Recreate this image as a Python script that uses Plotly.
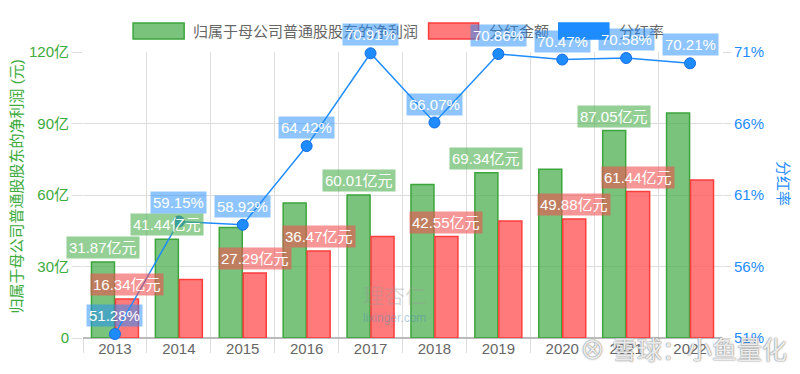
import plotly.graph_objects as go

years = ["2013", "2014", "2015", "2016", "2017", "2018", "2019", "2020", "2021", "2022"]
net_profit = [31.87, 41.44, 46.32, 56.61, 60.01, 64.40, 69.34, 70.78, 87.05, 94.40]
dividend = [16.34, 24.51, 27.29, 36.47, 42.55, 42.55, 49.13, 49.88, 61.44, 66.28]
payout_rate = [51.28, 59.15, 58.92, 64.42, 70.91, 66.07, 70.86, 70.47, 70.58, 70.21]

show_profit_label = [True, True, False, False, True, False, True, False, True, False]
show_dividend_label = [True, False, True, True, False, True, False, True, True, False]

left_ticks = [0, 30, 60, 90, 120]
left_tick_text = ["0", "30亿", "60亿", "90亿", "120亿"]
right_ticks = [51, 56, 61, 66, 71]
right_tick_text = ["51%", "56%", "61%", "66%", "71%"]

FONT = "Liberation Sans, Noto Sans CJK SC, sans-serif"
GREEN = "rgba(76,175,80,0.75)"
GREEN_LINE = "rgba(60,165,60,1)"
RED = "rgba(255,90,90,0.8)"
RED_LINE = "rgba(255,60,60,1)"
BLUE = "rgb(30,140,255)"

fig = go.Figure()
fig.add_trace(go.Bar(x=years, y=net_profit, name="归属于母公司普通股股东的净利润",
                     marker=dict(color=GREEN, line=dict(color=GREEN_LINE, width=1.5)),
                     yaxis="y"))
fig.add_trace(go.Bar(x=years, y=dividend, name="分红金额",
                     marker=dict(color=RED, line=dict(color=RED_LINE, width=1.5)),
                     yaxis="y"))
fig.add_trace(go.Scatter(x=years, y=payout_rate, name="分红率", mode="lines+markers",
                         line=dict(color=BLUE, width=1.5),
                         marker=dict(size=11, color=BLUE, line=dict(color="rgb(20,110,230)", width=1)),
                         yaxis="y2", cliponaxis=False))

annotations = []
# custom legend
legend_items = [
    ("归属于母公司普通股股东的净利润", 0.0784, 0.1583, 0.169, GREEN, GREEN_LINE),
    ("分红金额", 0.5408, 0.6191, 0.6317, RED, RED_LINE),
    ("分红率", 0.7445, 0.8229, 0.8354, BLUE, BLUE),
]
shapes = []
for name, x0, x1, tx, fc, lc in legend_items:
    shapes.append(dict(type="rect", xref="paper", yref="paper", x0=x0, x1=x1, y0=1.0455, y1=1.1014,
                       fillcolor=fc, line=dict(color=lc, width=1.5), layer="below"))
    annotations.append(dict(x=tx, y=1.0734, xref="paper", yref="paper",
                            xanchor="left", yanchor="middle",
                            text=name, showarrow=False,
                            font=dict(family=FONT, size=15, color="#666")))

# watermarks
annotations.append(dict(x=0.488, y=0.15, xref="paper", yref="paper", xanchor="center", yanchor="middle",
                        text="理杏仁", showarrow=False,
                        font=dict(family=FONT, size=21, color="rgba(150,150,150,0.35)")))
annotations.append(dict(x=0.488, y=0.07, xref="paper", yref="paper", xanchor="center", yanchor="middle",
                        text="lixinger.com", showarrow=False,
                        font=dict(family=FONT, size=12, color="rgba(80,140,180,0.45)")))

for i, yr in enumerate(years):
    if show_profit_label[i]:
        annotations.append(dict(x=i, y=net_profit[i], xref="x", yref="y", xshift=-12, yshift=3,
                                yanchor="bottom", text=f"{net_profit[i]:.2f}亿元", showarrow=False,
                                font=dict(family=FONT, size=15, color="white"),
                                bgcolor="rgba(76,175,80,0.6)", borderpad=2))
for i, yr in enumerate(years):
    if show_dividend_label[i]:
        annotations.append(dict(x=i, y=dividend[i], xref="x", yref="y", xshift=12, yshift=3,
                                yanchor="bottom", text=f"{dividend[i]:.2f}亿元", showarrow=False,
                                font=dict(family=FONT, size=15, color="white"),
                                bgcolor="rgba(240,80,80,0.6)", borderpad=2))
for i, yr in enumerate(years):
    annotations.append(dict(x=i, y=payout_rate[i], xref="x", yref="y2", yshift=7,
                            yanchor="bottom", text=f"{payout_rate[i]:.2f}%", showarrow=False,
                            font=dict(family=FONT, size=15, color="white"),
                            bgcolor="rgba(30,140,255,0.5)", borderpad=2))

# axis titles
annotations.append(dict(x=-0.104, y=0.528, xref="paper", yref="paper", textangle=-90,
                        xanchor="center", yanchor="middle",
                        text="归属于母公司普通股股东的净利润 (元)", showarrow=False,
                        font=dict(family=FONT, size=15, color="rgb(60,170,60)")))
annotations.append(dict(x=1.0955, y=0.542, xref="paper", yref="paper", textangle=90,
                        xanchor="center", yanchor="middle",
                        text="分红率", showarrow=False,
                        font=dict(family=FONT, size=15, color="rgb(30,140,255)")))
annotations.append(dict(x=0.939, y=-0.042, xref="paper", yref="paper", xanchor="center", yanchor="middle",
                        text="⊗ 雪球：小鱼量化", showarrow=False,
                        font=dict(family=FONT, size=25, color="rgba(255,255,255,0.85)",
                                  shadow="0 0 2px #777, 0 0 1px #777")))

# the page body has an 8px margin; size the figure to fit the 800x374 window
fig.update_layout(
    width=784, height=358,
    margin=dict(l=75, r=70, t=44, b=28, autoexpand=False),
    paper_bgcolor="white", plot_bgcolor="white",
    barmode="group", bargap=0.25, bargroupgap=0.04,
    showlegend=False,
    font=dict(family=FONT),
    xaxis=dict(type="category", range=[-0.5, len(years) - 0.5], tickson="boundaries",
               showgrid=True, gridcolor="#ddd",
               ticks="outside", ticklen=14, tickcolor="#ddd",
               tickfont=dict(size=15, color="#666"), showline=False),
    yaxis=dict(range=[0, 120], tickvals=left_ticks, ticktext=left_tick_text,
               showgrid=True, gridcolor="#ddd", zeroline=True, zerolinecolor="#bbb",
               ticks="outside", ticklen=10, tickcolor="#ddd",
               tickfont=dict(size=15, color="rgb(60,170,60)")),
    yaxis2=dict(range=[51, 71], tickvals=right_ticks, ticktext=right_tick_text,
                overlaying="y", side="right",
                showgrid=False, zeroline=False, ticks="outside", ticklen=8, tickcolor="#ddd",
                tickfont=dict(size=15, color="rgb(30,140,255)")),
    shapes=shapes,
    annotations=annotations,
)

fig.write_html("out.html")
